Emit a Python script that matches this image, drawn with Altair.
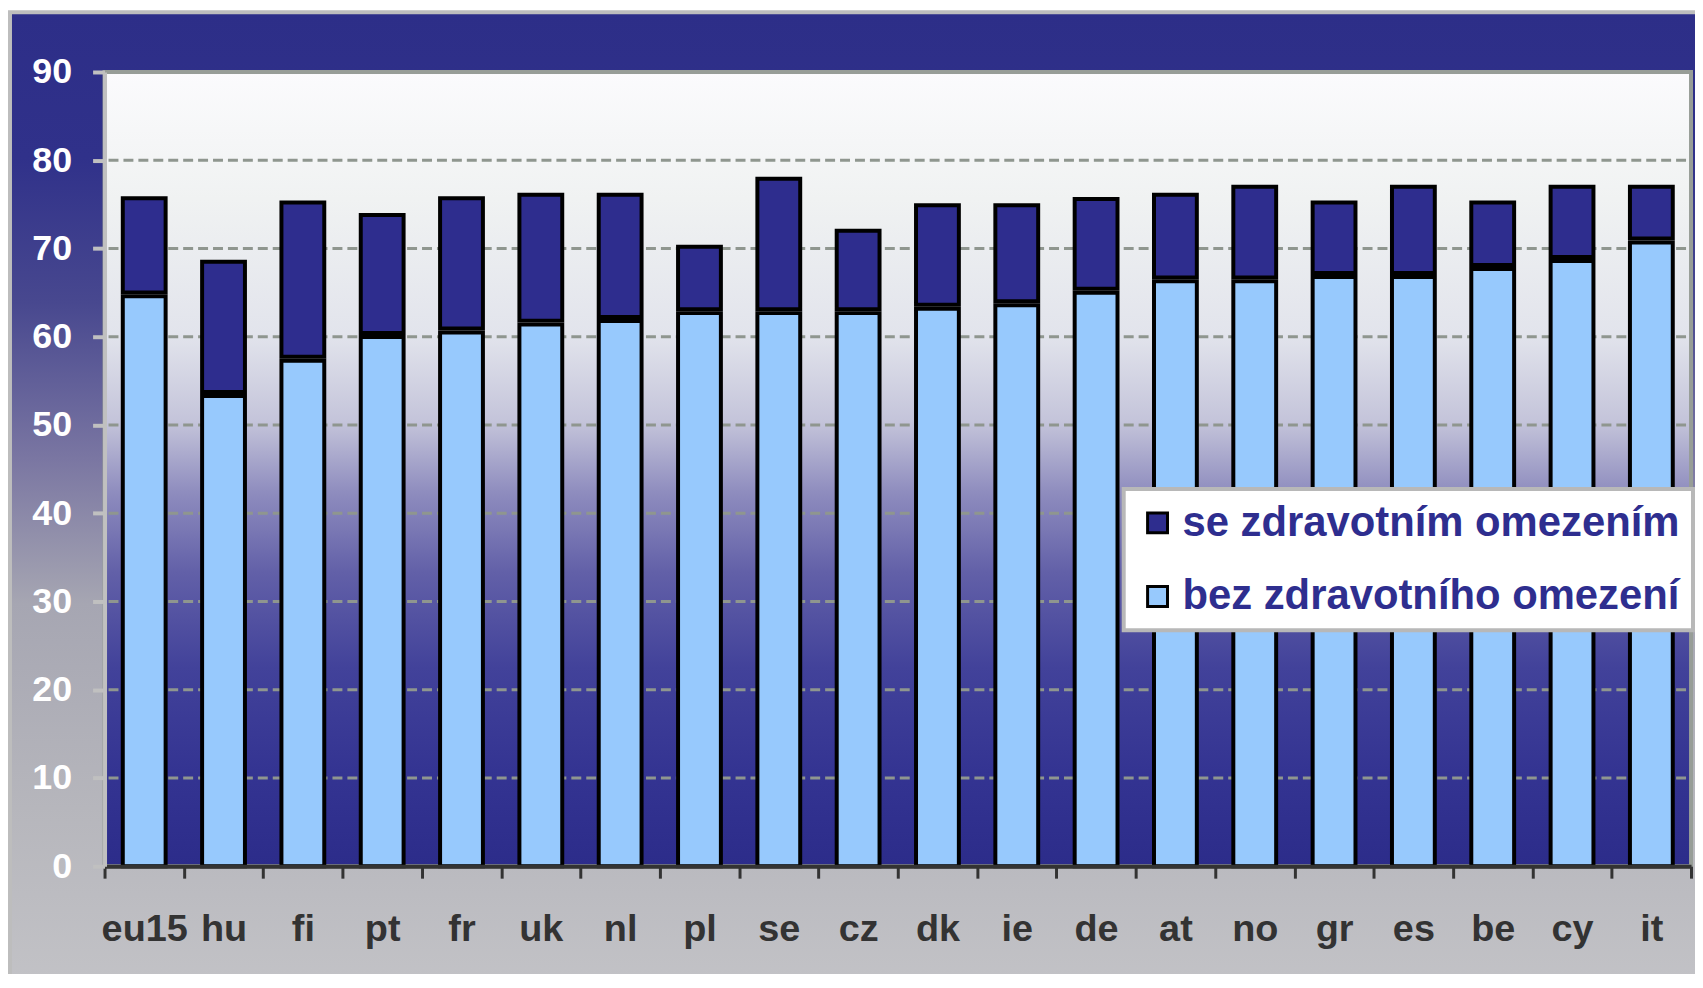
import altair as alt
import pandas as pd

categories = ["eu15", "hu", "fi", "pt", "fr", "uk", "nl", "pl", "se", "cz",
              "dk", "ie", "de", "at", "no", "gr", "es", "be", "cy", "it"]
total = [75.7, 68.5, 75.2, 73.8, 75.7, 76.1, 76.1, 70.2, 77.9, 72.0,
         74.9, 74.9, 75.6, 76.1, 77.0, 75.2, 77.0, 75.2, 77.0, 77.0]
healthy = [64.8, 53.5, 57.5, 60.2, 60.7, 61.6, 62.0, 62.9, 62.9, 62.9,
           63.4, 63.8, 65.2, 66.5, 66.5, 67.0, 67.0, 67.9, 68.8, 70.9]
series_names = ["se zdravotním omezením", "bez zdravotního omezení"]
y_ticks = [0, 10, 20, 30, 40, 50, 60, 70, 80, 90]
grid_values = [10, 20, 30, 40, 50, 60, 70, 80]

W, H = 1594, 798
PAD = {"left": 97, "top": 62, "right": 4, "bottom": 106}
NAVY = "#2e2d8e"
LIGHT = "#97c9fd"
FONT = "Liberation Sans"

rows = []
for c, t, h in zip(categories, total, healthy):
    rows.append({"cat": c, "series": series_names[1], "start": 0, "end": h})
    rows.append({"cat": c, "series": series_names[0], "start": h, "end": t})
df = pd.DataFrame(rows)

one = pd.DataFrame({"a": [0]})

outer_grad = {
    "gradient": "linear", "x1": 0, "y1": 0, "x2": 0, "y2": 1,
    "stops": [
        {"offset": 0.0, "color": "#2d2e88"},
        {"offset": 0.15, "color": "#30318a"},
        {"offset": 0.30, "color": "#48488f"},
        {"offset": 0.46, "color": "#7a76a2"},
        {"offset": 0.61, "color": "#a6a6b2"},
        {"offset": 0.82, "color": "#b6b6bc"},
        {"offset": 1.0, "color": "#c2c2c6"},
    ],
}
plot_grad = {
    "gradient": "linear", "x1": 0, "y1": 0, "x2": 0, "y2": 1,
    "stops": [
        {"offset": 0.0, "color": "#fbfbfd"},
        {"offset": 0.16, "color": "#f0f2f2"},
        {"offset": 0.33, "color": "#e2e4ec"},
        {"offset": 0.44, "color": "#c4c4da"},
        {"offset": 0.53, "color": "#8e8cbe"},
        {"offset": 0.63, "color": "#6260a8"},
        {"offset": 0.75, "color": "#42429a"},
        {"offset": 0.88, "color": "#343492"},
        {"offset": 1.0, "color": "#2c2c8a"},
    ],
}

outer_bg = alt.Chart(one).mark_rect(
    fill=outer_grad, stroke="#bdbdbd", strokeWidth=4
).encode(
    x=alt.value(-95), x2=alt.value(W + 10),
    y=alt.value(-60), y2=alt.value(H + PAD["bottom"] + 10),
)

plot_bg = alt.Chart(one).mark_rect(
    fill=plot_grad, stroke="#979d97", strokeWidth=4
).encode(
    x=alt.value(0), x2=alt.value(W), y=alt.value(0), y2=alt.value(H),
)

yscale = alt.Scale(domain=[0, 90], nice=False, zero=True)
yaxis = alt.Axis(
    values=y_ticks, labelFont=FONT, labelFontSize=36, labelFontWeight="bold",
    labelColor="white", labelPadding=21, tickSize=12, tickWidth=4,
    tickColor="#c0c0c0", domainColor="#c0c0c0", domainWidth=4,
    grid=False, zindex=1,
)

grid = alt.Chart(pd.DataFrame({"v": grid_values})).mark_rule(
    color="#8f968f", strokeWidth=3, strokeDash=[10, 5]
).encode(
    y=alt.Y("v:Q", scale=yscale, axis=yaxis, title=None),
    x=alt.value(4), x2=alt.value(W),
)

color = alt.Color(
    "series:N",
    scale=alt.Scale(domain=series_names, range=[NAVY, LIGHT]),
    legend=alt.Legend(
        title=None, orient="none", legendX=1024, legendY=419,
        fillColor="white", strokeColor="#b8b8b8",
        padding=13, rowPadding=32, symbolType="square", symbolSize=400,
        symbolStrokeColor="black", symbolStrokeWidth=3, symbolOpacity=1,
        labelFont=FONT, labelFontSize=42, labelFontWeight="bold",
        labelColor="#2e2e8f", labelOffset=4, labelLimit=800,
    ),
)

xenc = alt.X(
    "cat:N", sort=categories, title=None,
    scale=alt.Scale(paddingInner=0, paddingOuter=0),
    axis=alt.Axis(
        labelAngle=0, labelFont=FONT, labelFontSize=38, labelFontWeight="bold",
        labelColor="#333333", labelBaseline="alphabetic", labelPadding=63,
        tickBand="extent", tickSize=12, tickWidth=3, tickColor="#333333",
        domainColor="#333333", domainWidth=4, grid=False, zindex=1,
    ),
)

bar_w = alt.RelativeBandSize(0.54)

light_bars = alt.Chart(df).transform_filter(
    alt.datum.series == series_names[1]
).mark_bar(stroke="black", strokeWidth=4, yOffset=2, width=bar_w).encode(
    x=xenc,
    y=alt.Y("end:Q", scale=yscale, axis=yaxis, title=None),
    y2="start:Q",
    color=color,
)

dark_bars = alt.Chart(df).transform_filter(
    alt.datum.series == series_names[0]
).mark_bar(stroke="black", strokeWidth=4, y2Offset=-2, width=bar_w).encode(
    x=xenc,
    y=alt.Y("end:Q", scale=yscale, axis=yaxis, title=None),
    y2="start:Q",
    color=color,
)

chart = alt.layer(outer_bg, plot_bg, grid, light_bars, dark_bars).properties(
    width=W, height=H,
    autosize=alt.AutoSizeParams(type="none"),
    padding=PAD,
).configure_view(stroke=None).configure_legend(strokeWidth=4)

chart.save("out.html", embed_options={"renderer": "svg", "actions": False})
